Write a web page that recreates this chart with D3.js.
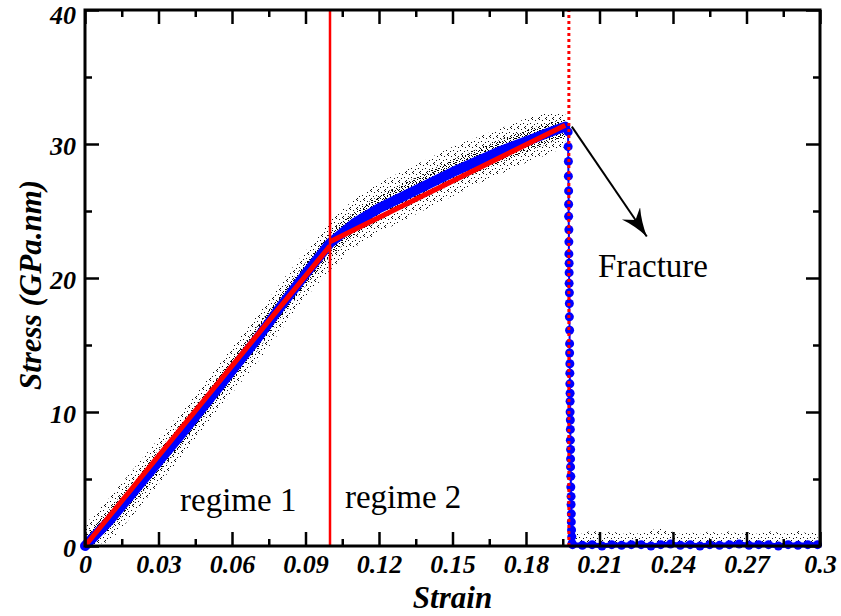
<!DOCTYPE html>
<html>
<head>
<meta charset="utf-8">
<script src="https://cdn.jsdelivr.net/npm/d3@7"></script>
<style>
  body { margin: 0; background: #fff; }
  text { font-family: "Liberation Serif", "Times New Roman", serif; }
</style>
</head>
<body>
<svg id="chart" width="841" height="616"></svg>
<script>
// curva de esfuerzo-deformacion (banda azul)
const strain = [0, 0.01, 0.02, 0.03, 0.04, 0.05, 0.06, 0.07, 0.08, 0.09, 0.1,
  0.11, 0.12, 0.13, 0.14, 0.15, 0.16, 0.17, 0.18, 0.19, 0.196]
const stress = [0, 1.9, 4.1, 6.3, 8.5, 10.8, 13.1, 15.4, 17.9, 20.3, 22.6,
  24.1, 25.2, 26.1, 27.0, 27.9, 28.7, 29.5, 30.2, 30.9, 31.3]

// ruido (puntos negros): limites superior e inferior
const noiseHigh = [1.6, 3.6, 5.8, 8.0, 10.2, 12.5, 14.8, 17.2, 19.7, 22.0, 24.3,
  25.9, 27.1, 28.0, 28.9, 29.8, 30.5, 31.2, 31.9, 32.4, 32.3]
const noiseLow = [0, 0.3, 2.4, 4.6, 6.8, 9.1, 11.4, 13.6, 16.1, 18.5, 20.6,
  22.3, 23.4, 24.3, 25.2, 26.1, 27.0, 27.8, 28.6, 29.3, 29.8]

// caida en la fractura
const dropStrain = [0.1972, 0.1972, 0.1973, 0.1973, 0.1974, 0.1974, 0.1974, 0.1975, 0.1975, 0.1975,
  0.1976, 0.1976, 0.1976, 0.1977, 0.1977, 0.1977, 0.1978, 0.1978, 0.1978, 0.1979,
  0.1979, 0.1979, 0.198, 0.198, 0.198, 0.1981, 0.1981, 0.1981, 0.1982, 0.1982,
  0.1982, 0.1983, 0.1983, 0.1984, 0.1984, 0.1985, 0.1985, 0.1986, 0.1987, 0.1988]
const dropStress = [30.9, 29.8, 28.7, 27.6, 26.5, 25.5, 24.6, 23.6, 22.7, 21.8,
  21.1, 20.4, 19.6, 18.9, 18.1, 17.1, 16.1, 15.1, 14.4, 13.6,
  12.9, 12.1, 11.4, 10.8, 10.0, 9.4, 8.7, 7.9, 7.2, 6.5,
  5.9, 5.2, 4.4, 3.7, 3.1, 2.4, 1.8, 1.2, 0.7, 0.2]

// despues de la fractura
const postStrain = [0.199, 0.203, 0.207, 0.211, 0.215, 0.219, 0.223, 0.227, 0.231, 0.235, 0.239,
  0.243, 0.247, 0.251, 0.255, 0.259, 0.263, 0.267, 0.271, 0.275, 0.279,
  0.283, 0.287, 0.291, 0.295, 0.299]
const postStress = [0.1, 0.05, 0.1, 0.0, 0.1, 0.05, 0.1, 0.1, 0.0, 0.1, 0.15,
  0.05, 0.1, 0.0, 0.1, 0.05, 0.1, 0.15, 0.05, 0.1, 0.1,
  0.0, 0.1, 0.05, 0.1, 0.1]
const postNoise = [1.1, 0.9, 1.2, 0.9, 1.1, 0.9, 1.0, 0.9, 1.2, 1.3, 1.1,
  0.9, 1.0, 0.9, 1.1, 0.9, 1.1, 0.9, 1.0, 0.9, 1.1,
  1.0, 0.9, 1.2, 0.9, 1.1]

// ajustes lineales (rojo)
const fit1 = [[0, 0], [0.1, 22.4]]
const fit2 = [[0.1, 22.7], [0.196, 31.4]]
const regimeLine = 0.1
const fractureLine = 0.1975

const xMajor = [0, 0.03, 0.06, 0.09, 0.12, 0.15, 0.18, 0.21, 0.24, 0.27, 0.3]
const xLabels = ["0", "0.03", "0.06", "0.09", "0.12", "0.15", "0.18", "0.21", "0.24", "0.27", "0.3"]
const xMinor = [0.015, 0.045, 0.075, 0.105, 0.135, 0.165, 0.195, 0.225, 0.255, 0.285]
const yMajor = [0, 10, 20, 30, 40]
const yLabels = ["0", "10", "20", "30", "40"]
const yMinor = [5, 15, 25, 35]

const width = 841, height = 616
const m = {left: 85, top: 10, right: 21, bottom: 70}

const svg = d3.select('#chart')

const x = d3.scaleLinear().domain([0, 0.3]).range([m.left, width - m.right])
const y = d3.scaleLinear().domain([0, 40]).range([height - m.bottom, m.top])

const defs = svg.append('defs')
const pat = defs.append('pattern')
    .attr('id', 'ruido').attr('patternUnits', 'userSpaceOnUse')
    .attr('width', 6).attr('height', 8)
;[[0, 0], [0, 2], [0, 4], [3, 1], [3, 3], [5, 6], [2, 6], [4, 7], [1, 5], [5, 2]].forEach(p => {
  pat.append('rect').attr('x', p[0]).attr('y', p[1]).attr('width', 1).attr('height', 1).attr('fill', '#000')
})
const pat2 = defs.append('pattern')
    .attr('id', 'ruido2').attr('patternUnits', 'userSpaceOnUse')
    .attr('width', 7).attr('height', 9)
;[[0, 0], [0, 2], [5, 6], [3, 3], [2, 7], [6, 1]].forEach(p => {
  pat2.append('rect').attr('x', p[0]).attr('y', p[1]).attr('width', 1).attr('height', 1).attr('fill', '#111')
})

defs.append('marker')
    .attr('id', 'flecha').attr('markerUnits', 'userSpaceOnUse')
    .attr('markerWidth', 32).attr('markerHeight', 26)
    .attr('refX', 28).attr('refY', 11).attr('orient', 'auto')
    .append('path').attr('d', 'M0,0 Q12,7 28,11 Q12,15 0,22 L8,11 Z').attr('fill', '#000')

// ruido
const area = d3.area().x(d => x(d[0])).y0(d => y(d[1])).y1(d => y(d[2]))
const inner = strain.map((s, i) => [s, (noiseLow[i] + stress[i]) / 2, (noiseHigh[i] + stress[i]) / 2])
svg.append('path')
    .datum(strain.map((s, i) => [s, noiseLow[i], noiseHigh[i]]))
    .attr('d', area).attr('fill', 'url(#ruido2)')
svg.append('path')
    .datum(inner)
    .attr('d', area).attr('fill', 'url(#ruido)')
svg.append('path')
    .datum(postStrain.map((s, i) => [s, 0, postNoise[i]]))
    .attr('d', area).attr('fill', 'url(#ruido2)')

const line = d3.line().x(d => x(d[0])).y(d => y(d[1]))

// banda azul
svg.append('path')
    .datum(strain.map((s, i) => [s, stress[i]]))
    .attr('d', line).attr('fill', 'none')
    .attr('stroke', '#0000ff').attr('stroke-width', 10)
    .attr('stroke-linecap', 'round').attr('stroke-linejoin', 'round')

const drop = dropStrain.map((s, i) => [s, dropStress[i]])
const post = postStrain.map((s, i) => [s, postStress[i]])
svg.append('path')
    .datum([[strain[strain.length - 1], stress[stress.length - 1]]].concat(drop))
    .attr('d', line).attr('fill', 'none')
    .attr('stroke', '#0000ff').attr('stroke-width', 2)
svg.append('path')
    .datum(post)
    .attr('d', line).attr('fill', 'none')
    .attr('stroke', '#0000ff').attr('stroke-width', 5)
svg.append('g').selectAll('circle')
    .data(drop.concat(post))
    .join('circle')
    .attr('cx', d => x(d[0])).attr('cy', d => y(d[1]))
    .attr('r', 4.5).attr('fill', '#0000ff')

// lineas rojas
svg.append('line')
    .attr('x1', x(regimeLine)).attr('x2', x(regimeLine))
    .attr('y1', y(0)).attr('y2', y(40))
    .attr('stroke', '#ff0000').attr('stroke-width', 2.5)
svg.append('line')
    .attr('x1', x(fractureLine)).attr('x2', x(fractureLine))
    .attr('y1', y(0)).attr('y2', y(40))
    .attr('stroke', '#ff0000').attr('stroke-width', 3)
    .attr('stroke-dasharray', '3,3')
;[fit1, fit2].forEach(f => {
  svg.append('path').datum(f).attr('d', line)
      .attr('stroke', '#ff0000').attr('stroke-width', 5).attr('fill', 'none')
})

// flecha y textos
svg.append('line')
    .attr('x1', x(0.1987)).attr('y1', y(31.3))
    .attr('x2', x(0.2293)).attr('y2', y(23.1))
    .attr('stroke', '#000').attr('stroke-width', 2)
    .attr('marker-end', 'url(#flecha)')

const notas = [
  {t: 'regime 1', s: 0.0388, v: 2.6},
  {t: 'regime 2', s: 0.1061, v: 2.8},
  {t: 'Fracture', s: 0.2094, v: 20.1}
]
svg.selectAll('.nota').data(notas).join('text')
    .attr('class', 'nota')
    .attr('x', d => x(d.s)).attr('y', d => y(d.v))
    .attr('font-size', 33).attr('fill', '#000')
    .text(d => d.t)

// ejes
function estilo(g) {
  g.select('.domain').remove()
  g.selectAll('.tick line').attr('stroke', '#000').attr('stroke-width', 2.5)
  g.selectAll('.tick text').attr('font-size', 26).attr('font-weight', 'bold')
      .attr('font-style', 'italic').attr('fill', '#000')
      .attr('font-family', '"Liberation Serif", "Times New Roman", serif')
}
const bottom = height - m.bottom, right = width - m.right
svg.append('g').attr('transform', `translate(0,${bottom})`)
    .call(d3.axisBottom(x).tickValues(xMajor).tickFormat((d, i) => xLabels[i]).tickSize(-14).tickPadding(9))
    .call(estilo)
svg.append('g').attr('transform', `translate(0,${bottom})`)
    .call(d3.axisBottom(x).tickValues(xMinor).tickFormat('').tickSize(-7)).call(estilo)
svg.append('g').attr('transform', `translate(0,${m.top})`)
    .call(d3.axisTop(x).tickValues(xMajor).tickFormat('').tickSize(-14)).call(estilo)
svg.append('g').attr('transform', `translate(0,${m.top})`)
    .call(d3.axisTop(x).tickValues(xMinor).tickFormat('').tickSize(-7)).call(estilo)
svg.append('g').attr('transform', `translate(${m.left},0)`)
    .call(d3.axisLeft(y).tickValues(yMajor).tickFormat((d, i) => yLabels[i]).tickSize(-14).tickPadding(9))
    .call(estilo)
    .selectAll('.tick text').attr('dy', d => d === 40 ? '0.52em' : '0.4em')
svg.append('g').attr('transform', `translate(${m.left},0)`)
    .call(d3.axisLeft(y).tickValues(yMinor).tickFormat('').tickSize(-7)).call(estilo)
svg.append('g').attr('transform', `translate(${right},0)`)
    .call(d3.axisRight(y).tickValues(yMajor).tickFormat('').tickSize(-14)).call(estilo)
svg.append('g').attr('transform', `translate(${right},0)`)
    .call(d3.axisRight(y).tickValues(yMinor).tickFormat('').tickSize(-7)).call(estilo)

svg.append('rect')
    .attr('x', m.left).attr('y', m.top)
    .attr('width', right - m.left).attr('height', bottom - m.top)
    .attr('fill', 'none').attr('stroke', '#000').attr('stroke-width', 3)

svg.append('text')
    .attr('x', (m.left + right) / 2).attr('y', 608)
    .attr('text-anchor', 'middle')
    .attr('font-size', 31).attr('font-weight', 'bold').attr('font-style', 'italic')
    .text('Strain')
svg.append('text')
    .attr('transform', 'translate(41,285) rotate(-90)')
    .attr('text-anchor', 'middle')
    .attr('font-size', 31).attr('font-weight', 'bold').attr('font-style', 'italic')
    .text('Stress (GPa.nm)')
</script>
</body>
</html>
